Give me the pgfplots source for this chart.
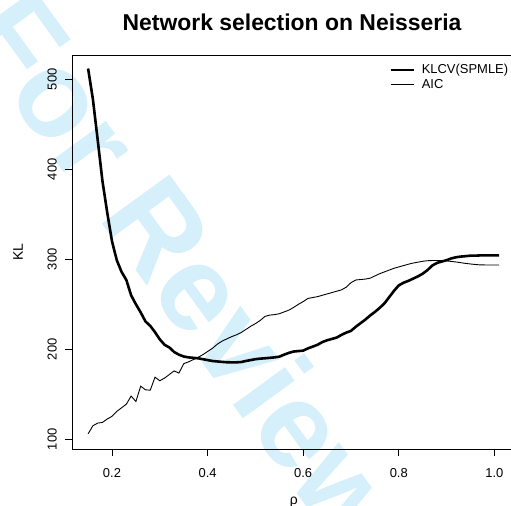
\documentclass[border=0pt]{standalone}
\usepackage{fontspec}
\setmainfont{Liberation Sans}
\usepackage{pgfplots}
\pgfplotsset{compat=1.18}
\definecolor{wm}{RGB}{213,239,251}

\begin{document}
\begin{tikzpicture}[x=1bp,y=1bp]
\useasboundingbox (0,0) rectangle (511,506);
\clip (0,0) rectangle (511,506);
\node[rotate=-54, text=wm, font=\bfseries\fontsize{122}{122}\selectfont, inner sep=0pt] at (188,237) {For Review};
\begin{axis}[
  at={(72bp,57bp)}, anchor=south west,
  scale only axis, width=443.6bp, height=394bp,
  xmin=0.11632, xmax=1.0444, ymin=89.2, ymax=527,
  axis x line*=bottom, axis y line*=left,
  axis line style={-, line width=0.9bp},
  tick align=outside, major tick length=7bp,
  every tick/.style={black, line width=0.9bp},
  xtick={0.2,0.4,0.6,0.8,1.0},
  xticklabels={0.2,0.4,0.6,0.8,1.0},
  ytick={100,200,300,400,500},
  /pgf/number format/assume math mode=true,
  tick label style={font=\fontsize{13}{13}\selectfont},
  xticklabel style={anchor=north, inner sep=0pt, yshift=-12bp},
  yticklabel style={xshift=-8bp, rotate=90, anchor=south, inner sep=0pt},
  title={Network selection on Neisseria},
  every axis title/.style={at={(axis description cs:0.496,1)}, anchor=base, yshift=24bp, font=\bfseries\fontsize{23}{23}\selectfont},
  xlabel={ρ},
  every axis x label/.style={at={(axis description cs:0.5,-0.1396)}, anchor=base, font=\fontsize{14}{14}\selectfont},
  ylabel={KL},
  every axis y label/.style={at={(axis description cs:-0.1105,0.5)}, rotate=90, anchor=base, font=\fontsize{14}{14}\selectfont},
  legend style={at={(axis description cs:0.7146,0.979)}, anchor=north west, draw=none, fill=none,
    font=\fontsize{13}{13}\selectfont, inner sep=0pt, row sep=2bp,
    nodes={inner sep=1bp}},
  legend cell align=left,
  legend image code/.code={\draw[#1] (0bp,0bp) -- (23bp,0bp); \path (29bp,0bp);},
]
\addplot[black, line width=2.6bp] coordinates {
(0.15,512) (0.16,478) (0.17,433) (0.18,387) (0.19,352) (0.20,320)
(0.21,299) (0.22,286) (0.23,277) (0.24,260) (0.25,250) (0.26,241)
(0.27,231) (0.28,226) (0.29,219) (0.30,211) (0.31,205) (0.32,202)
(0.33,197) (0.34,194) (0.35,192) (0.36,191) (0.37,190.5) (0.38,190)
(0.39,189) (0.40,188) (0.41,187) (0.42,186.5) (0.43,186) (0.44,185.6)
(0.45,185.5) (0.46,185.5) (0.47,185.8) (0.48,187) (0.49,188) (0.50,189)
(0.51,189.6) (0.52,190) (0.53,190.5) (0.54,191) (0.55,191.8) (0.56,194)
(0.57,196) (0.58,197.5) (0.59,198) (0.60,198.5) (0.61,201) (0.62,203)
(0.63,205) (0.64,208) (0.65,210) (0.66,211.5) (0.67,213) (0.68,216)
(0.69,218.5) (0.70,220.5) (0.71,225) (0.72,229) (0.73,233) (0.74,237.5)
(0.75,241.5) (0.76,246) (0.77,251) (0.78,258) (0.79,265) (0.80,271)
(0.81,274) (0.82,276) (0.83,278.5) (0.84,281) (0.85,284) (0.86,288)
(0.87,293) (0.88,296) (0.89,297.5) (0.90,299) (0.91,301) (0.92,302.3)
(0.93,303) (0.94,303.5) (0.95,304) (0.96,304) (0.97,304.3) (0.98,304.4)
(0.99,304.4) (1.00,304.4) (1.01,304.4)
};
\addlegendentry{KLCV(SPMLE)}
\addplot[black, line width=0.9bp] coordinates {
(0.15,106) (0.16,115) (0.17,118) (0.18,118.7) (0.19,122.5) (0.20,125.5)
(0.21,131) (0.22,135) (0.23,139) (0.24,148) (0.25,142) (0.26,159)
(0.27,155) (0.28,154.5) (0.29,169) (0.30,165) (0.31,168) (0.32,172)
(0.33,176) (0.34,173.5) (0.35,184) (0.36,186) (0.37,188.5) (0.38,191)
(0.39,194) (0.40,197.5) (0.41,201) (0.42,205.5) (0.43,209) (0.44,211.5)
(0.45,214) (0.46,216) (0.47,218.5) (0.48,222) (0.49,225.5) (0.50,228.5)
(0.51,232) (0.52,236.5) (0.53,238) (0.54,238.5) (0.55,239.5) (0.56,241.5)
(0.57,243.5) (0.58,246.5) (0.59,250) (0.60,253) (0.61,256.5) (0.62,257.5)
(0.63,258.5) (0.64,260) (0.65,261.5) (0.66,263) (0.67,264.5) (0.68,266)
(0.69,269) (0.70,274) (0.71,277) (0.72,277.5) (0.73,278) (0.74,279)
(0.75,281.5) (0.76,284) (0.77,286) (0.78,288) (0.79,290) (0.80,291.5)
(0.81,293) (0.82,294.5) (0.83,295.8) (0.84,296.8) (0.85,297.8) (0.86,298.4)
(0.87,298.6) (0.88,298.6) (0.89,298.5) (0.90,298.2) (0.91,297.6) (0.92,297)
(0.93,296.2) (0.94,295.4) (0.95,294.8) (0.96,294.2) (0.97,293.8) (0.98,293.7)
(0.99,293.7) (1.00,293.6) (1.01,293.6)
};
\addlegendentry{AIC}
\draw[line width=0.9bp] (rel axis cs:0,1) -- (rel axis cs:1,1);
\end{axis}
\end{tikzpicture}
\end{document}
